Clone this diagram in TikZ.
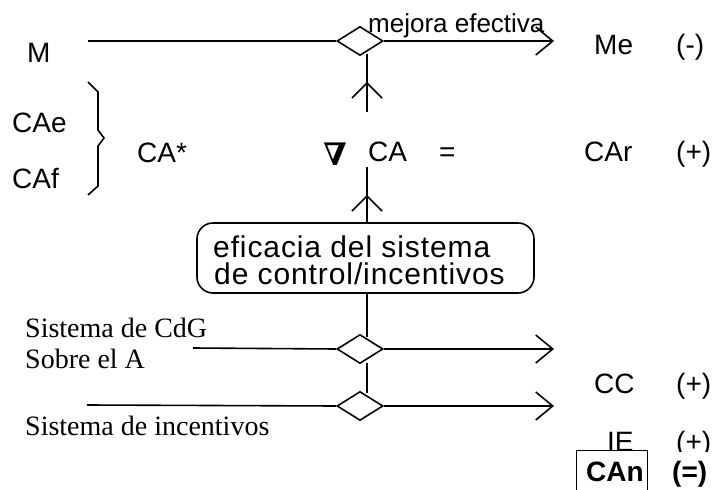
\documentclass[tikz,border=0pt]{standalone}
\usepackage{fontspec}
\setmainfont{Liberation Sans}
\newfontfamily\serifff{Liberation Serif}
\newfontfamily\nablaff{DejaVu Serif}
\newfontfamily\boxff[LetterSpace=3]{Liberation Sans}
\usetikzlibrary{shapes.geometric,arrows.meta}
\begin{document}
\begin{tikzpicture}[x=1pt,y=-1pt,
  lbl/.style={anchor=base west,inner sep=0pt,font=\fontsize{28}{30}\selectfont},
  sml/.style={anchor=base west,inner sep=0pt,font=\fontsize{26}{28}\selectfont},
  srf/.style={anchor=base west,inner sep=0pt,font=\serifff\fontsize{28}{30}\selectfont},
  bld/.style={anchor=base west,inner sep=0pt,font=\bfseries\fontsize{28}{30}\selectfont},
  boxtxt/.style={anchor=base west,inner sep=0pt,font=\boxff\fontsize{30}{27}\selectfont},
  ln/.style={line width=1.6pt},
  dia/.style={diamond,draw,line width=1.6pt,minimum width=46pt,minimum height=29pt,inner sep=0pt},
  arr/.style={ln,-{Straight Barb[length=17pt,width=28pt,line width=1.6pt]}},
  chev/.style={ln}
]
\useasboundingbox (0,0) rectangle (716,490);
% top row
\node[lbl] (M) at (27,62) {M};
\node[dia] (d1) at (360,41) {};
\coordinate (s1) at (88,41);
\coordinate (e1) at (554,41);
\draw[ln] (s1) -- (d1.west);
\draw[arr] (d1.east) -- (e1);
\node[sml] (mej) at (368,32) {mejora efectiva};
\node[lbl] (Me) at (594,54) {Me};
\node[lbl] (Mes) at (676,54) {(-)};
% vertical up to diamond 1
\coordinate (v1a) at (367,112);
\coordinate (v1b) at (367,54);
\draw[ln] (v1a) -- (v1b);
\coordinate (c1) at (367,83);
\draw[chev] ([shift={(-15,15)}]c1) -- (c1) -- ([shift={(15,15)}]c1);
% brace
\draw[ln] (88,82) -- (98,92) -- (98,130) -- (104,138) -- (98,146) -- (98,186) -- (88,195);
\node[lbl] (CAe) at (12,132) {CAe};
\node[lbl] (CAf) at (12,188) {CAf};
\node[lbl] (CAs) at (137,162) {CA*};
\node[inner sep=0pt,font=\nablaff\bfseries\fontsize{31}{32}\selectfont] (nab) at (335,154) {∇};
\node[lbl] (CA) at (368,161) {CA};
\node[lbl] (eq) at (439,161) {=};
\node[lbl] (CAr) at (584,161) {CAr};
\node[lbl] (CArs) at (676,161) {(+)};
% box
\node[draw,ln,rounded corners=16pt,minimum width=337pt,minimum height=70pt,inner sep=0pt] (box) at (365.5,258) {};
\node[boxtxt] (bt1) at (213,257) {eficacia del sistema};
\node[boxtxt] (bt2) at (214,284) {de control/incentivos};
\coordinate (v2a) at (367,167);
\draw[ln] (v2a) -- (v2a |- box.north);
\coordinate (c2) at (367,196);
\draw[chev] ([shift={(-15,15)}]c2) -- (c2) -- ([shift={(15,15)}]c2);
% lower diamonds
\node[dia] (d2) at (360,349) {};
\node[dia] (d3) at (360,406) {};
\coordinate (v3b) at (367,337);
\draw[ln] (v3b |- box.south) -- (v3b);
\coordinate (v4a) at (367,363);
\coordinate (v4b) at (367,393);
\draw[ln] (v4a) -- (v4b);
\coordinate (s2) at (193,348);
\coordinate (e2) at (554,349);
\draw[ln] (s2) -- (d2.west);
\draw[arr] (d2.east) -- (e2);
\coordinate (s3) at (87,405);
\coordinate (e3) at (554,406);
\draw[ln] (s3) -- (d3.west);
\draw[arr] (d3.east) -- (e3);
\node[srf] (sc1) at (25,337) {Sistema de CdG};
\node[srf] (sc2) at (25,368) {Sobre el A};
\node[srf] (si) at (25,435) {Sistema de incentivos};
\node[lbl] (CC) at (594,393) {CC};
\node[lbl] (CCs) at (676,393) {(+)};
\begin{scope}
\clip (560,415) rectangle (716,451);
\node[lbl] (IE) at (607,451) {IE};
\node[lbl] (IEs) at (676,451) {(+)};
\end{scope}
\node[draw,line width=1pt,minimum width=71pt,minimum height=40pt,inner sep=0pt] (canb) at (611.5,470) {};
\node[bld] (CAn) at (586,481) {CAn};
\node[bld] (eqs) at (672,481) {(=)};
\end{tikzpicture}
\end{document}
